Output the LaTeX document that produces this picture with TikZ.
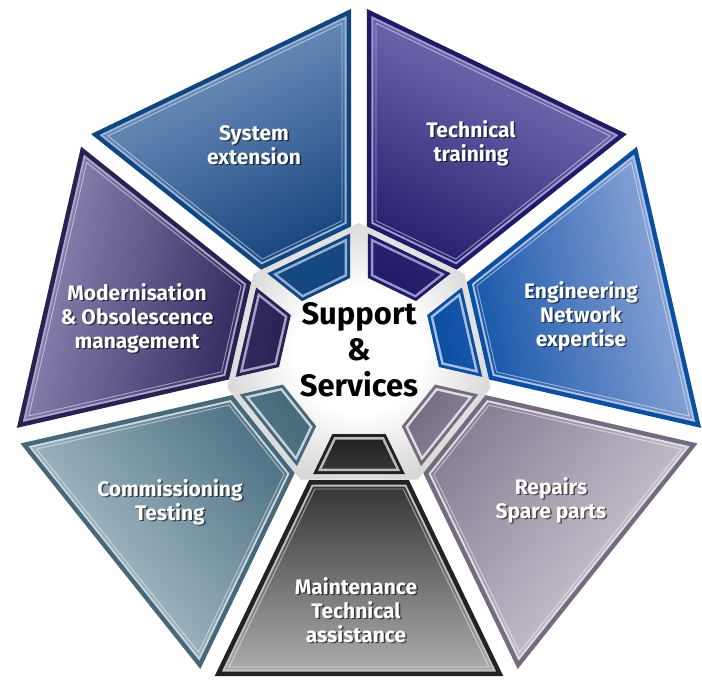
\documentclass[tikz,border=0pt]{standalone}
\usepackage{fontspec}
\setmainfont{Fira Sans}
\usetikzlibrary{shapes.geometric,calc}

% segment colours: light face, dark face, rim
\definecolor{sysL}{HTML}{7F9BC6}
\definecolor{sysD}{HTML}{1B4A82}
\definecolor{sysB}{HTML}{0F4680}
\definecolor{trnL}{HTML}{8179BD}
\definecolor{trnD}{HTML}{2C2473}
\definecolor{trnB}{HTML}{211A67}
\definecolor{engL}{HTML}{97ADDB}
\definecolor{engD}{HTML}{1857AA}
\definecolor{engB}{HTML}{0A4FA2}
\definecolor{repL}{HTML}{D6D2DA}
\definecolor{repD}{HTML}{8C8297}
\definecolor{repB}{HTML}{756B81}
\definecolor{mntL}{HTML}{ABABAB}
\definecolor{mntD}{HTML}{363636}
\definecolor{mntB}{HTML}{222222}
\definecolor{comL}{HTML}{B8CAD4}
\definecolor{comD}{HTML}{537688}
\definecolor{comB}{HTML}{466878}
\definecolor{modL}{HTML}{908AB6}
\definecolor{modD}{HTML}{332B60}
\definecolor{modB}{HTML}{282253}

\pgfdeclareradialshading{hubshade}{\pgfpoint{0bp}{0bp}}{%
  color(0bp)=(white); color(12bp)=(white); color(30bp)=(gray!40);
  color(50bp)=(gray!85)}

% one heptagon sector: angle, inner apothem, outer apothem, half gap
\newcommand{\segpoly}[4]{%
  ($({#1}:{#2})+({#1-90}:{0.4816*(#2)-1.1099*(#4)})$) --
  ($({#1}:{#3})+({#1-90}:{0.4816*(#3)-1.1099*(#4)})$) --
  ($({#1}:{#3})+({#1+90}:{0.4816*(#3)-1.1099*(#4)})$) --
  ($({#1}:{#2})+({#1+90}:{0.4816*(#2)-1.1099*(#4)})$) -- cycle}

\begin{document}
\begin{tikzpicture}[
    x=1pt, y=1pt,
    hub/.style={regular polygon, regular polygon sides=7, minimum size=270pt,
      inner sep=0pt, shading=hubshade},
    bevel/.style={white, opacity=.5, line width=.9pt},
    seglabel/.style={font=\bfseries\fontsize{21}{24}\selectfont, text=white, align=center},
    segshadow/.style={seglabel, text=black, opacity=.6},
    title/.style={font=\bfseries\fontsize{31}{36}\selectfont, align=center}
]
    \useasboundingbox (-359,-323) rectangle (343,358);

    \node[hub] (hub) at (0,0) {};

    \foreach \a/\lc/\dc/\bc/\lx/\ly/\n/\t [evaluate=\a as \sa using \a-90] in {
        115.71/sysL/sysD/sysB/-105/213/sysext/{System\\extension},
        64.29/trnL/trnD/trnB/112/215/training/{Technical\\training},
        12.86/engL/engD/engB/222/42/engineering/{Engineering\\Network\\expertise},
        -38.57/repL/repD/repB/192/-142/repairs/{Repairs\\Spare parts},
        -90/mntL/mntD/mntB/-3/-252/maintenance/{Maintenance\\Technical\\assistance},
        -141.43/comL/comD/comB/-189/-144/commissioning/{Commissioning\\Testing},
        167.14/modL/modD/modB/-222/40/modernisation/{Modernisation\\\& Obsolescence\\management}}
    {
        % outer piece
        \fill[\bc] \segpoly{\a}{122}{318}{8};
        \fill[\lc!75!white] \segpoly{\a}{126.5}{313.5}{12.5};
        \shade[top color=\lc, bottom color=\dc, shading angle=\sa] \segpoly{\a}{128.5}{311.5}{14.5};
        \draw[bevel] \segpoly{\a}{131}{309}{17};
        % inner step
        \fill[\bc] \segpoly{\a}{76}{116}{9};
        \fill[\lc!80!white] \segpoly{\a}{79}{113}{12};
        \shade[top color=\dc, bottom color=\bc, shading angle=\sa] \segpoly{\a}{81.5}{110.5}{14.5};
        % label
        \node[segshadow] (\n-sh) at (\lx+1.5,\ly-1.5) {\t};
        \node[seglabel] (\n) at (\lx,\ly) {\t};
    }

    \node[title] (support) at (0,8) {Support\\\&\\Services};
\end{tikzpicture}
\end{document}
